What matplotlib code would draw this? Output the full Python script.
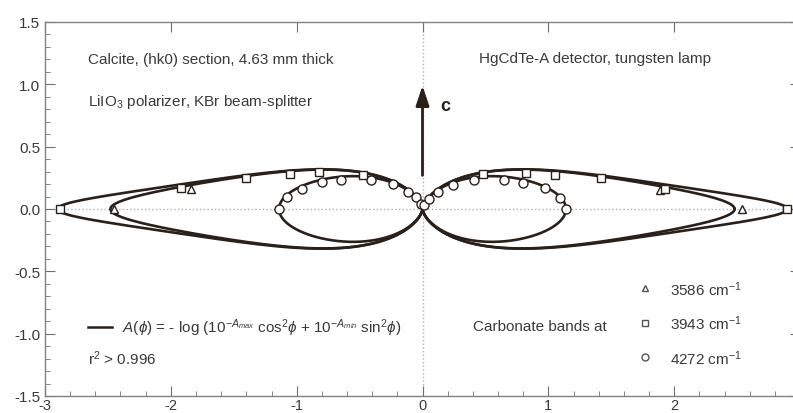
import numpy as np
import matplotlib
matplotlib.use("Agg")
import matplotlib.pyplot as plt
from matplotlib.ticker import MultipleLocator

plt.rcParams['font.family'] = ['Liberation Sans', 'DejaVu Sans']
plt.rcParams['mathtext.fontset'] = 'custom'
plt.rcParams['mathtext.rm'] = 'Liberation Sans'
plt.rcParams['mathtext.it'] = 'Liberation Sans:italic'
plt.rcParams['mathtext.bf'] = 'Liberation Sans:bold'

# Fitted parameters of A(phi) for each carbonate band
bands = ['3586', '3943', '4272']
a_max = [2.48, 2.90, 1.14]
a_min = [0.0, 0.0, 0.0]
markers = ['^', 's', 'o']

# Measured points (x = A cos phi, y = A sin phi)
tri_x = [-2.45, -1.84, 1.89, 2.54]
tri_y = [0.0, 0.16, 0.155, 0.0]

sq_x = [-2.88, -1.92, -1.40, -1.05, -0.82, -0.47, 0.48, 0.82, 1.05, 1.42, 1.93, 2.90]
sq_y = [0.0, 0.166, 0.246, 0.28, 0.30, 0.27, 0.28, 0.29, 0.27, 0.245, 0.16, 0.0]

circ_x = [-1.14, -1.08, -0.955, -0.80, -0.65, -0.41, -0.236, -0.117, -0.05, -0.01,
          0.01, 0.05, 0.12, 0.24, 0.41, 0.65, 0.80, 0.97, 1.09, 1.14]
circ_y = [0.0, 0.094, 0.16, 0.22, 0.235, 0.235, 0.20, 0.139, 0.094, 0.04,
          0.03, 0.08, 0.14, 0.19, 0.235, 0.235, 0.21, 0.165, 0.09, 0.0]

# x tick labels (the 3 sits at the cropped right edge)
x_ticks = [-3, -2, -1, 0, 1, 2, 3]
x_labels = ['-3', '-2', '-1', '0', '1', '2', '']

ink = '#2a2019'
txt = '#3a3a3a'

fig = plt.figure(figsize=(7.93, 4.14), dpi=100)
ax = fig.add_axes([45 / 793, 17 / 414, 755 / 793, 374 / 414])

# model curves
phi = np.linspace(0, 2 * np.pi, 2000)
for amx, amn in zip(a_max, a_min):
    A = -np.log10(10 ** (-amx) * np.cos(phi) ** 2 + 10 ** (-amn) * np.sin(phi) ** 2)
    ax.plot(A * np.cos(phi), A * np.sin(phi), color=ink, lw=1.9, zorder=3)

# data points
ax.plot(tri_x, tri_y, '^', ms=6, mfc='white', mec=ink, mew=1.0, ls='none', zorder=4)
ax.plot(sq_x, sq_y, 's', ms=6, mfc='white', mec=ink, mew=1.0, ls='none', zorder=4)
ax.plot(circ_x, circ_y, 'o', ms=6.5, mfc='white', mec=ink, mew=1.0, ls='none', zorder=5)

# dotted zero lines
ax.axhline(0, color='#b0b0b0', ls=':', lw=1.0, zorder=1)
ax.axvline(0, color='#b0b0b0', ls=':', lw=1.0, zorder=1)

# c-axis arrow
ax.annotate('', xy=(0, 0.99), xytext=(0, 0.27),
            arrowprops=dict(arrowstyle='-|>,head_length=0.6,head_width=0.2',
                            lw=2.0, color=ink, mutation_scale=20, shrinkA=0, shrinkB=0),
            zorder=6)
ax.text(0.14, 0.83, 'c', fontsize=13, fontweight='bold', color=ink, va='center')

# annotations
fs = 11
ax.text(-2.66, 1.20, 'Calcite, (hk0) section, 4.63 mm thick', fontsize=fs, color=txt, va='center')
ax.text(-2.66, 0.87, r'LiIO$_3$ polarizer, KBr beam-splitter', fontsize=fs, color=txt, va='center')
ax.text(0.45, 1.21, 'HgCdTe-A detector, tungsten lamp', fontsize=fs, color=txt, va='center')

ax.plot([-2.66, -2.47], [-0.945, -0.945], color=ink, lw=1.8)
ax.text(-2.39, -0.945,
        r'$A(\phi)$ = - log (10$^{-A_{max}}$ cos$^2\phi$ + 10$^{-A_{min}}$ sin$^2\phi$)',
        fontsize=fs, color=txt, va='center')
ax.text(-2.66, -1.19, r'r$^2$ > 0.996', fontsize=fs, color=txt, va='center')

ax.text(0.40, -0.935, 'Carbonate bands at', fontsize=fs, color=txt, va='center')
leg_y = [-0.636, -0.915, -1.19]
for m, b, yy in zip(markers, bands, leg_y):
    ax.plot([1.77], [yy], m, ms=5, mfc='white', mec='#555555', mew=1.0)
    ax.text(1.97, yy, b + r' cm$^{-1}$', fontsize=fs, color=txt, va='center')

ax.set_xlim(-3, 3)
ax.set_ylim(-1.5, 1.5)
ax.set_xticks(x_ticks)
ax.set_xticklabels(x_labels)
ax.xaxis.set_minor_locator(MultipleLocator(0.2))
ax.yaxis.set_major_locator(MultipleLocator(0.5))
ax.yaxis.set_minor_locator(MultipleLocator(0.1))
ax.yaxis.set_major_formatter(plt.FormatStrFormatter('%.1f'))
ax.tick_params(which='both', direction='in', colors='#707070', labelcolor=txt,
               labelsize=11, top=True, right=True)
ax.tick_params(which='major', length=7)
ax.tick_params(which='minor', length=3.5, top=False)
ax.tick_params(axis='x', which='major', pad=1.5, labelsize=10.5)
for s in ax.spines.values():
    s.set_color('#808080')
    s.set_linewidth(1.0)

fig.savefig('out.png', dpi=100, facecolor='white')
